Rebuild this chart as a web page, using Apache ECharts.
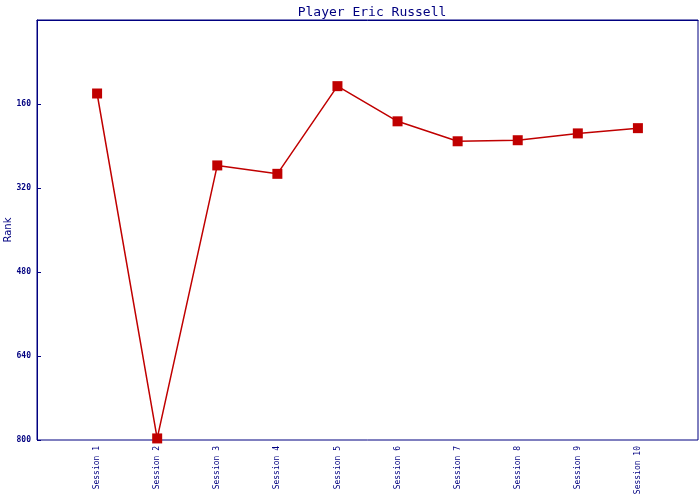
<!DOCTYPE html>
<html><head><meta charset="utf-8">
<script src="https://cdn.jsdelivr.net/npm/echarts@6/dist/echarts.min.js"></script>
<style>html,body{margin:0;padding:0;background:#fff}#c{width:700px;height:500px}</style>
</head><body><div id="c"></div>
<script>
const categories = ['', 'Session 1', 'Session 2', 'Session 3', 'Session 4', 'Session 5', 'Session 6', 'Session 7', 'Session 8', 'Session 9', 'Session 10', ''];
const rankValues = [null, 140, 797, 277, 293, 126, 193, 231, 229, 216, 206, null];
const titleText = 'Player Eric Russell';
const yName = 'Rank';

const navy = '#000080';
const chart = echarts.init(document.getElementById('c'));
chart.setOption({
  animation: false,
  title: { text: titleText, left: 367, top: 1, textAlign: 'center',
    textStyle: { color: navy, fontFamily: 'DejaVu Sans Mono', fontSize: 13, fontWeight: 'normal' } },
  grid: { left: 37, right: 2, top: 20, bottom: 60, show: true, borderColor: navy, borderWidth: 1,
    containLabel: false, outerBoundsMode: 'none' },
  xAxis: {
    type: 'category', data: categories, boundaryGap: false,
    axisLine: { lineStyle: { color: navy, width: 1 } },
    axisTick: { show: false },
    axisLabel: { rotate: 90, color: navy, fontFamily: 'DejaVu Sans Mono', fontSize: 8, margin: 6, interval: 0 },
    splitLine: { show: false }
  },
  yAxis: {
    type: 'value', inverse: true, min: 0, max: 800, interval: 160,
    name: yName, nameLocation: 'middle', nameGap: 29, nameRotate: 90, nameMoveOverlap: false,
    nameTextStyle: { color: navy, fontFamily: 'DejaVu Sans', fontSize: 10, verticalAlign: 'middle' },
    axisLine: { show: true, lineStyle: { color: navy, width: 1 } },
    axisTick: { show: true, inside: true, length: 4, lineStyle: { color: navy } },
    axisLabel: { color: navy, fontFamily: 'DejaVu Sans Mono', fontSize: 8, fontWeight: 'bold', margin: 6,
      formatter: v => v === 0 ? '' : String(v) },
    splitLine: { show: false }
  },
  series: [{
    type: 'line', data: rankValues, symbol: 'rect', symbolSize: 10,
    lineStyle: { color: '#c00000', width: 1.5 },
    itemStyle: { color: '#c00000' }
  }]
});
</script></body></html>
